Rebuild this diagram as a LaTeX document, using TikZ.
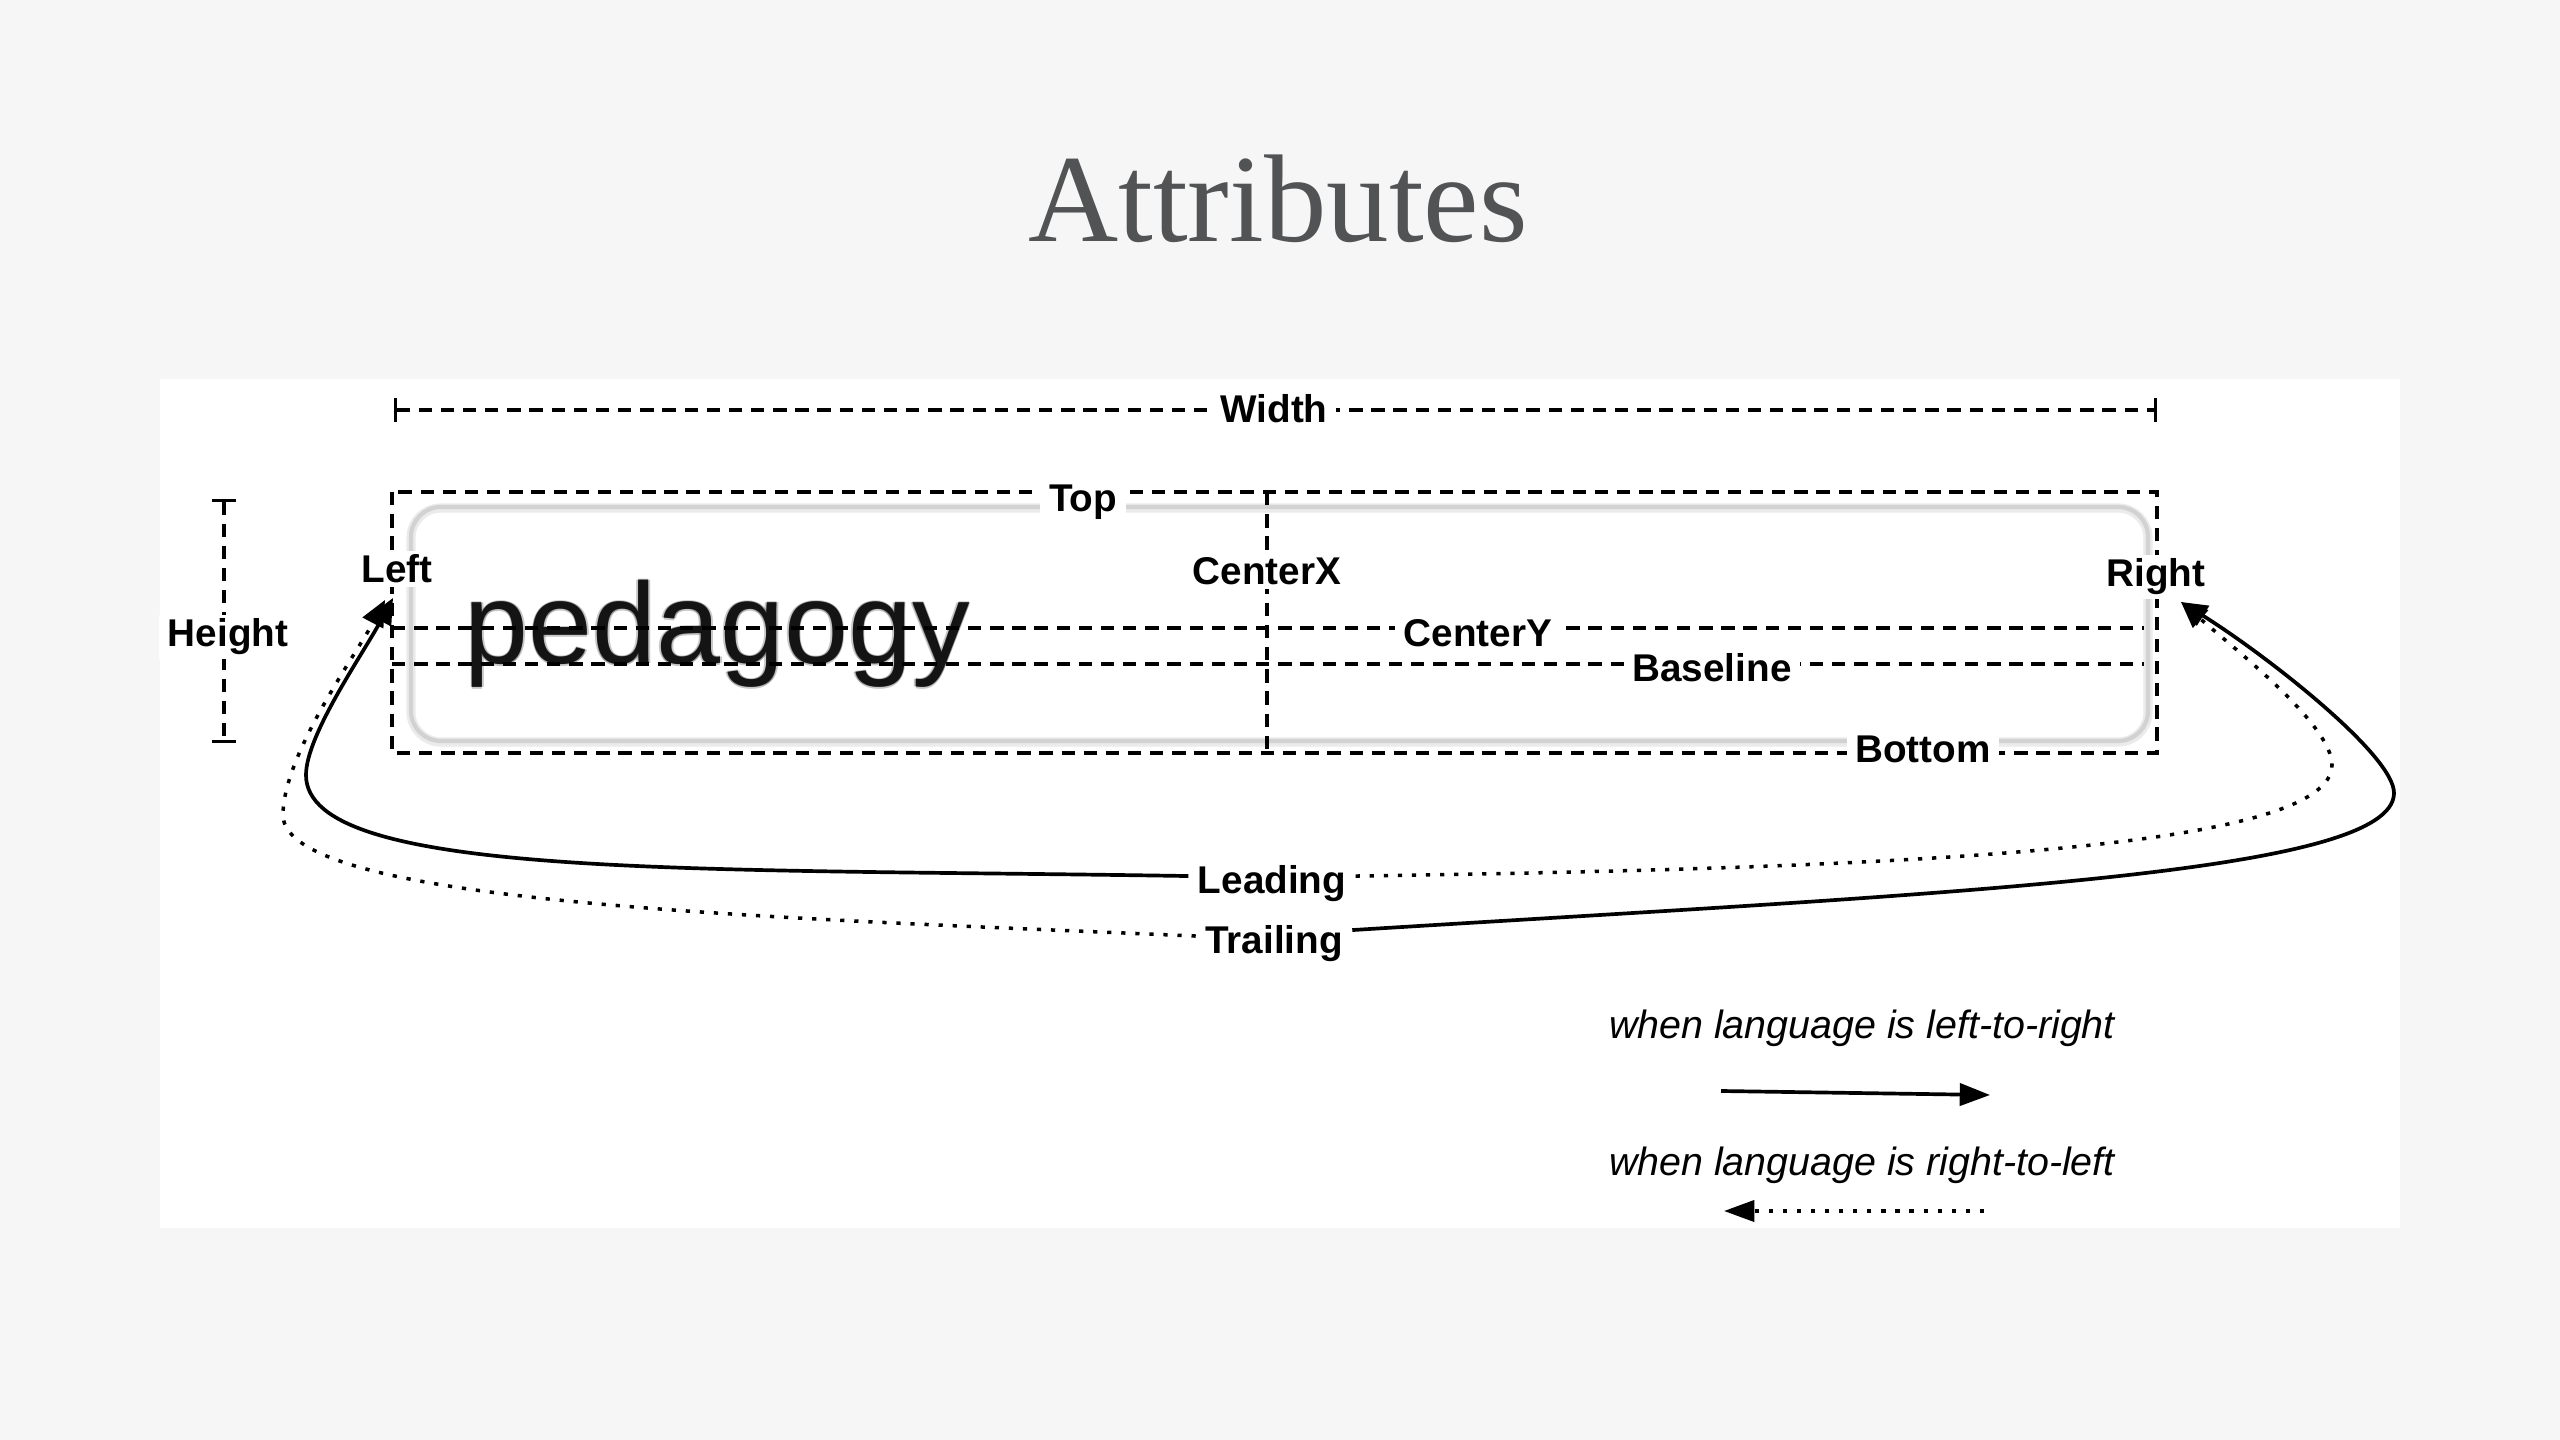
\documentclass[tikz,border=0pt]{standalone}
\usepackage{fontspec}
\setmainfont{Liberation Sans}
\newfontfamily\titleserif{Liberation Serif}
\usetikzlibrary{arrows.meta}
\definecolor{pagebg}{RGB}{246,246,246}
\definecolor{titlegray}{RGB}{82,83,84}
\definecolor{framegray}{RGB}{210,210,210}
\begin{document}
\begin{tikzpicture}[x=0.01cm,y=-0.01cm,
  dashline/.style={line width=0.95pt, dash pattern=on 3.8pt off 2.5pt},
  dotline/.style={line width=1pt, dash pattern=on 1.2pt off 2.8pt},
  solidline/.style={line width=1.05pt},
  tipstyle/.style={-{Triangle[length=7.4pt,width=6.5pt]}},
  measure/.style={dashline, {Bar[width=6.8pt]}-{Bar[width=6.8pt]}},
  lbl/.style={font=\fontsize{11pt}{13pt}\selectfont\bfseries, fill=white,
              inner xsep=2.5pt, inner ysep=1pt, anchor=base},
  note/.style={font=\fontsize{11.2pt}{13pt}\selectfont\itshape, anchor=base, inner sep=0},
  wordtxt/.style={font=\fontsize{32.7pt}{36pt}\selectfont, anchor=base west, inner sep=0},
]
% page and panel
\fill[pagebg] (0,0) rectangle (2560,1440);
\useasboundingbox (0,0) rectangle (2560,1440);
\fill[white] (160,379) rectangle (2400,1228);

% title
\node[font=\titleserif\fontsize{35.5pt}{40pt}\selectfont, text=titlegray,
      anchor=base, inner sep=0] (title) at (1278,242) {Attributes};

% sample word, slightly soft
\foreach \dx/\dy [count=\i] in {-0.45/0,0.45/0,0/-0.45,0/0.45}
  \node[wordtxt, opacity=0.22, xshift=\dx pt, yshift=\dy pt] (halo\i) at (464,664) {pedagogy};
\node[wordtxt, text=black!92] (word) at (464,664) {pedagogy};

% rounded grey frame around the word
\draw[framegray!45, line width=2.6pt, rounded corners=8.5pt] (411,508) rectangle (2148,742);
\draw[framegray, line width=1.2pt, rounded corners=8.5pt] (411,507) rectangle (2148,741);

% dashed guides
\draw[dashline] (392,492) rectangle (2157,753);
\draw[dashline] (1267,492) -- (1267,750);
\draw[dashline] (392,628) -- (2144,628);
\draw[dashline] (392,664) -- (2144,664);

% width and height measures
\coordinate (wl) at (394,410);
\coordinate (wr) at (2157,410);
\draw[measure] (wl) -- (wr);
\coordinate (ht) at (224,499);
\coordinate (hb) at (224,743);
\draw[measure] (ht) -- (hb);

% labels
\node[lbl] (width)    at (1274,423) {Width};
\node[lbl] (top)      at (1083,512) {Top};
\node[lbl] (left)     at (397,583)  {Left};
\node[lbl] (centerx)  at (1267,585) {CenterX};
\node[lbl] (right)    at (2156,587) {Right};
\node[lbl] (centery)  at (1478,647) {CenterY};
\node[lbl] (baseline) at (1712,682) {Baseline};
\node[lbl] (bottom)   at (1923,763) {Bottom};
\node[lbl] (height)   at (228,647)  {Height};
\node[lbl] (lead)     at (1272,893) {Leading};
\node[lbl] (trail)    at (1274,953) {Trailing};

% leading / trailing connectors
\coordinate (tipL)  at (393,598);
\coordinate (tipLd) at (385,600);
\coordinate (tipR)  at (2181,602);

\draw[solidline, tipstyle] ([yshift=2pt]lead.west)
  .. controls (700,868) and (306,880) .. (306,775)
  .. controls (306,735) and (363,654) .. (tipL);
\draw[dotline, tipstyle] ([yshift=2pt]trail.west)
  .. controls (780,918) and (283,905) .. (283,815)
  .. controls (283,755) and (357,653) .. (tipLd);
\draw[solidline, tipstyle] ([yshift=3.7pt]trail.east)
  .. controls (1950,893) and (2394,875) .. (2394,793)
  .. controls (2394,755) and (2266,655) .. (tipR);
\draw[dotline, tipstyle] ([yshift=2pt]lead.east)
  .. controls (1900,868) and (2332,850) .. (2332,765)
  .. controls (2332,725) and (2236,650) .. (tipR);

% legend
\node[note] (ltr) at (1862,1038) {when language is left-to-right};
\node[note] (rtl) at (1862,1175) {when language is right-to-left};
\coordinate (la1) at (1721,1091);
\coordinate (la2) at (1990,1095);
\draw[solidline, -{Triangle[length=8.6pt,width=6.3pt]}] (la1) -- (la2);
\coordinate (lb1) at (1984,1211);
\coordinate (lb2) at (1724,1211);
\draw[dotline, -{Triangle[length=8.6pt,width=6pt]}] (lb1) -- (lb2);
\end{tikzpicture}
\end{document}
